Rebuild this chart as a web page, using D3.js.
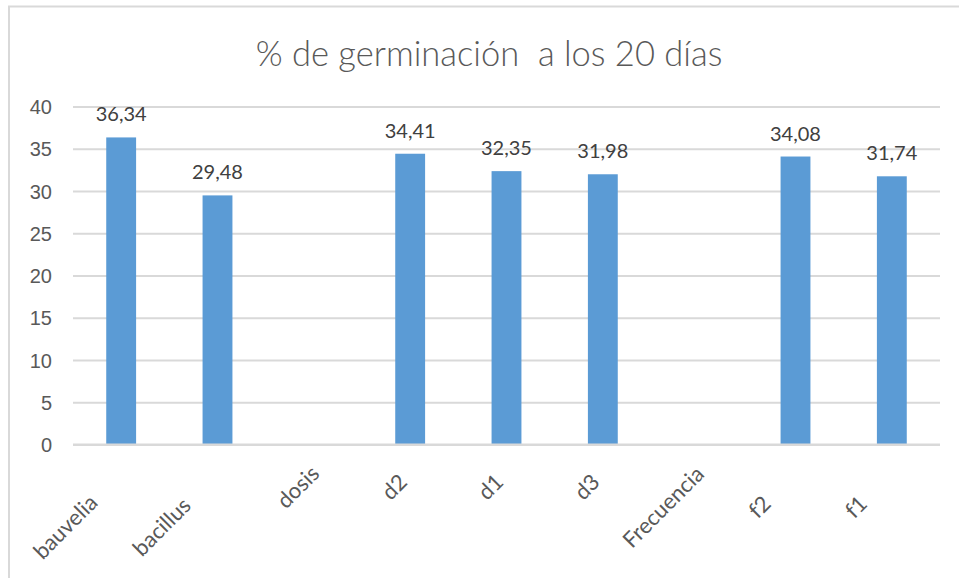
<!DOCTYPE html>
<html>
<head>
<meta charset="utf-8">
<script src="https://cdn.jsdelivr.net/npm/d3@7"></script>
<style>
  body { margin: 0; background: #fff; }
  svg { display: block; font-family: Lato, "Open Sans", sans-serif; }
</style>
</head>
<body>
<svg id="chart"></svg>
<script>
// chart data (blank categories have no bar)
const categories = ['bauvelia', 'bacillus', 'dosis', 'd2', 'd1', 'd3', 'Frecuencia', 'f2', 'f1'];
const values = [36.34, 29.48, null, 34.41, 32.35, 31.98, null, 34.08, 31.74];
// labels as they stand in the sheet, padded with trailing spaces
const axisLabels = [
  'bauvelia                    ',
  'bacillus                    ',
  'dosis',
  'd2',
  'd1',
  'd3',
  'Frecuencia          ',
  'f2          ',
  'f1          '
];
const yTicks = [0, 5, 10, 15, 20, 25, 30, 35, 40];
const title = '% de germinación  a los 20 días';

let width = 959;
let height = 578;
let plotLeft = 73;
let plotRight = 940;
let plotTop = 106.5;
let plotBottom = 444.5;

const svg = d3.select('#chart').attr('width', width).attr('height', height);

// chart area border (only left and top fall inside the picture)
svg.append('rect')
  .attr('x', 9).attr('y', 6.5)
  .attr('width', width + 20).attr('height', height + 20)
  .attr('fill', 'none').attr('stroke', '#d9d9d9').attr('stroke-width', 2);

const xScale = d3.scaleBand().domain(categories).range([plotLeft, plotRight])
  .paddingInner(0.69).paddingOuter(0.345);
const yScale = d3.scaleLinear().domain([0, 40]).range([plotBottom, plotTop]);

// title
svg.append('text')
  .attr('x', 489).attr('y', 66)
  .attr('text-anchor', 'middle')
  .attr('fill', '#595959')
  .style('font-size', '34.5px')
  .style('font-weight', 300)
  .style('white-space', 'pre')
  .text(title);

// gridlines + y labels
const yAxis = d3.axisLeft(yScale).tickValues(yTicks).tickSize(-(plotRight - plotLeft)).tickPadding(21);
const gy = svg.append('g').attr('transform', 'translate(' + plotLeft + ',0)').call(yAxis);
gy.select('.domain').remove();
gy.selectAll('.tick line').attr('stroke', '#d9d9d9').attr('stroke-width', 2);
gy.selectAll('.tick text').attr('fill', '#595959').style('font-size', '20px').attr('dy', '0.36em');

// bars
const data = categories.map((c, i) => ({ cat: c, value: values[i], label: axisLabels[i] }));
svg.selectAll('rect.bar').data(data.filter(d => d.value != null)).enter().append('rect')
  .attr('class', 'bar')
  .attr('x', d => xScale(d.cat))
  .attr('y', d => yScale(d.value))
  .attr('width', xScale.bandwidth())
  .attr('height', d => yScale(0) - yScale(d.value))
  .attr('fill', '#5b9bd5');

// value labels (comma decimals)
svg.selectAll('text.val').data(data.filter(d => d.value != null)).enter().append('text')
  .attr('class', 'val')
  .attr('x', d => xScale(d.cat) + xScale.bandwidth() / 2)
  .attr('y', d => yScale(d.value) - 16)
  .attr('text-anchor', 'middle')
  .attr('fill', '#404040')
  .style('font-size', '20px')
  .text(d => d.value.toFixed(2).replace('.', ','));

// zero line sits over the bars' base
svg.append('line')
  .attr('x1', plotLeft).attr('x2', plotRight)
  .attr('y1', yScale(0)).attr('y2', yScale(0))
  .attr('stroke', '#d9d9d9').attr('stroke-width', 2);

// rotated category labels
svg.selectAll('text.cat').data(data).enter().append('text')
  .attr('class', 'cat')
  .attr('transform', d => 'translate(' + (xScale(d.cat) + xScale.bandwidth() / 2 - 16) + ',487) rotate(-45)')
  .attr('text-anchor', 'middle')
  .attr('dy', '0.35em')
  .attr('fill', '#595959')
  .style('font-size', '22px')
  .style('white-space', 'pre')
  .text(d => d.label);
</script>
</body>
</html>
